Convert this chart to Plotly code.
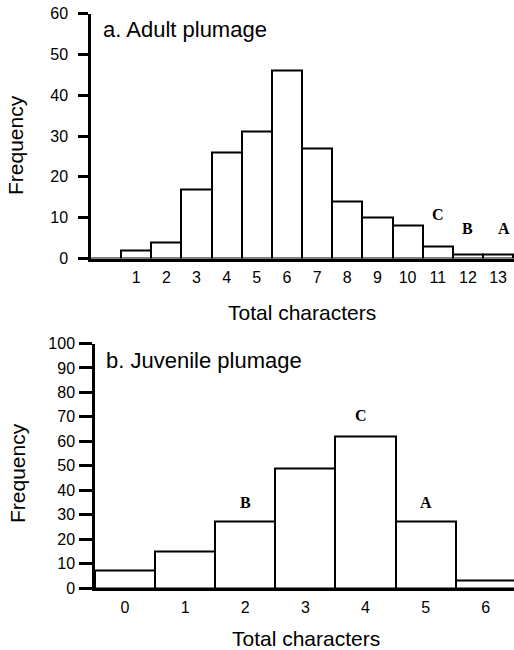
import plotly.graph_objects as go

# ---- data ----
adult_chars = list(range(0, 14))
adult_freq = [0, 2, 4, 17, 26, 31, 46, 27, 14, 10, 8, 3, 1, 1]
adult_ticks = list(range(1, 14))
adult_labels = ["C", "B", "A"]
adult_label_x = [11, 12, 13]
adult_label_y = [10.8, 7.4, 7.4]

juv_chars = list(range(0, 7))
juv_freq = [7, 15, 27, 49, 62, 27, 3]
juv_ticks = list(range(0, 7))
juv_labels = ["B", "C", "A"]
juv_label_x = [2, 3.92, 5]
juv_label_y = [35, 70.5, 35]

W, H = 514, 650
SANS = "Liberation Sans, Arial, sans-serif"
SERIF = "Liberation Serif, Times New Roman, serif"

fig = go.Figure()
fig.add_trace(go.Bar(x=adult_chars, y=adult_freq, width=1, marker=dict(color="white", line=dict(color="black", width=2)),
                     xaxis="x", yaxis="y", showlegend=False, cliponaxis=False))
fig.add_trace(go.Bar(x=juv_chars, y=juv_freq, width=1, marker=dict(color="white", line=dict(color="black", width=2)),
                     xaxis="x2", yaxis="y2", showlegend=False, cliponaxis=False))

def px_x(p):
    return p / W

def px_y(p):
    return (H - p) / H

lab_font = dict(family=SERIF, size=16, color="black")
annotations = []
for t, x, y in zip(adult_labels, adult_label_x, adult_label_y):
    annotations.append(dict(text="<b>%s</b>" % t, x=x, y=y, xref="x", yref="y", showarrow=False,
                            font=lab_font, xanchor="center", yanchor="middle",
                            xshift=6 if t == "A" else 0))
for t, x, y in zip(juv_labels, juv_label_x, juv_label_y):
    annotations.append(dict(text="<b>%s</b>" % t, x=x, y=y, xref="x2", yref="y2", showarrow=False,
                            font=lab_font, xanchor="center", yanchor="middle"))

txt = dict(family=SANS, size=21, color="black")
ttl = dict(family=SANS, size=22, color="black")
annotations += [
    dict(text="a. Adult plumage", x=px_x(101), y=px_y(30), xref="paper", yref="paper", showarrow=False,
         xanchor="left", yanchor="middle", font=ttl),
    dict(text="b. Juvenile plumage", x=px_x(104), y=px_y(360), xref="paper", yref="paper", showarrow=False,
         xanchor="left", yanchor="middle", font=ttl),
    dict(text="Total characters", x=px_x(302), y=px_y(312), xref="paper", yref="paper", showarrow=False,
         xanchor="center", yanchor="middle", font=txt),
    dict(text="Total characters", x=px_x(306), y=px_y(638), xref="paper", yref="paper", showarrow=False,
         xanchor="center", yanchor="middle", font=txt),
    dict(text="Frequency", x=px_x(15), y=px_y(145), xref="paper", yref="paper", showarrow=False,
         xanchor="center", yanchor="middle", textangle=-90, font=txt),
    dict(text="Frequency", x=px_x(18), y=px_y(473), xref="paper", yref="paper", showarrow=False,
         xanchor="center", yanchor="middle", textangle=-90, font=txt),
]

tickfont = dict(family=SANS, size=16, color="black")

fig.update_layout(
    width=W, height=H,
    margin=dict(l=0, r=0, t=0, b=0, autoexpand=False),
    paper_bgcolor="white", plot_bgcolor="white",
    bargap=0,
    annotations=annotations,
    xaxis=dict(domain=[px_x(91), 1], range=[-0.5, 13.53], tickvals=adult_ticks, ticktext=[str(v) for v in adult_ticks],
               ticks="", showgrid=False, zeroline=False, showline=True, linecolor="black", linewidth=2.5,
               tickfont=tickfont, anchor="y", ticklabelstandoff=3, automargin=False),
    yaxis=dict(domain=[px_y(258.5), px_y(13.5)], range=[0, 60], tickvals=list(range(0, 61, 10)),
               ticks="outside", ticklen=10, tickwidth=2.5, tickcolor="black", showgrid=False, zeroline=False,
               showline=True, linecolor="black", linewidth=2.5, tickfont=tickfont, anchor="x",
               ticklabelstandoff=7, automargin=False),
    xaxis2=dict(domain=[px_x(95), 1], range=[-0.5, 6.47], tickvals=juv_ticks, ticktext=[str(v) for v in juv_ticks],
                ticks="", showgrid=False, zeroline=False, showline=True, linecolor="black", linewidth=2.5,
                tickfont=tickfont, anchor="y2", ticklabelstandoff=3, automargin=False),
    yaxis2=dict(domain=[px_y(588), px_y(343.5)], range=[0, 100], tickvals=list(range(0, 101, 10)),
                ticks="outside", ticklen=13, tickwidth=2.5, tickcolor="black", showgrid=False, zeroline=False,
                showline=True, linecolor="black", linewidth=2.5, tickfont=tickfont, anchor="x2",
                ticklabelstandoff=1, automargin=False),
)

fig.write_html("out.html", config={"displayModeBar": False},
               post_script="document.body.style.margin='0';document.body.style.padding='0';"
                           "document.body.style.overflow='hidden';")
